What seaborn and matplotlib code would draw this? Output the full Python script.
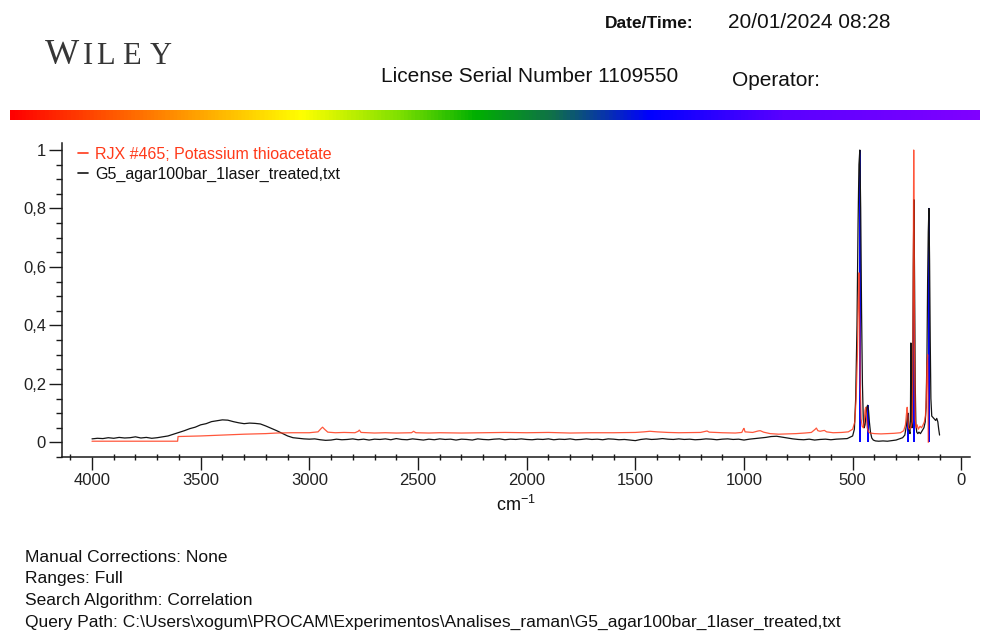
import numpy as np
import pandas as pd
import matplotlib
matplotlib.use("Agg")
import matplotlib.pyplot as plt
import seaborn as sns
from matplotlib.colors import LinearSegmentedColormap
from matplotlib.ticker import MultipleLocator, FuncFormatter

# ---------------- data ----------------
sample_label = "G5_agar100bar_1laser_treated,txt"
ref_label = "RJX #465; Potassium thioacetate"

black_wn = [
    4000, 3975, 3950, 3925, 3900, 3875, 3850, 3825, 3800, 3775,
    3750, 3725, 3700, 3675, 3650,
    3625, 3600, 3575, 3550, 3525, 3500, 3475, 3450, 3425, 3400,
    3375, 3350, 3325, 3300, 3275, 3250, 3225, 3200, 3175, 3150,
    3125, 3100, 3075, 3050, 3025,
    3000, 2975, 2950, 2925, 2900, 2875, 2850, 2825, 2800, 2775,
    2750, 2725, 2700, 2675, 2650, 2625, 2600, 2575, 2550, 2525,
    2500, 2475, 2450, 2425, 2400, 2375, 2350, 2325, 2300, 2275,
    2250, 2225, 2200, 2175, 2150, 2125, 2100, 2075, 2050, 2025,
    2000, 1975, 1950, 1925, 1900, 1875, 1850, 1825, 1800, 1775,
    1750, 1725, 1700, 1675, 1650, 1625, 1600, 1575, 1550, 1525,
    1500, 1475, 1450, 1425, 1400, 1375, 1350, 1325, 1300, 1275,
    1250, 1225, 1200, 1175, 1150, 1125, 1100, 1075, 1050, 1025,
    1000, 975, 950, 925, 900, 875, 850, 825, 800, 775,
    750, 725, 700, 675, 650, 625, 600, 575, 550, 525,
    500, 492, 486, 480, 475, 471, 467, 463, 459, 455,
    451, 447, 443, 439, 435, 431, 427, 423, 418, 412,
    405, 395, 380, 360, 340, 320, 300, 285, 270, 260,
    252, 248, 246, 243, 240, 236, 234, 232, 230, 227,
    224, 221, 218, 215, 212, 209, 205, 200, 195, 188,
    180, 172, 166, 162, 158, 155, 152, 149, 146, 143,
    140, 136, 130, 124, 118, 113, 108, 104, 100,
]
black_int = [
    .012, .014, .013, .016, .014, .017, .015, .016, .019, .015,
    .017, .014, .016, .019, .022,
    .028, .034, .040, .047, .052, .060, .064, .071, .074, .077,
    .076, .071, .067, .064, .066, .065, .063, .056, .048, .040,
    .031, .022, .016, .014, .012,
    .011, .012, .009, .007, .008, .011, .009, .010, .012, .009,
    .011, .008, .011, .010, .012, .009, .013, .010, .009, .012,
    .010, .008, .011, .009, .012, .010, .011, .008, .011, .010,
    .008, .012, .010, .009, .011, .012, .009, .011, .010, .012,
    .010, .009, .011, .010, .012, .009, .011, .010, .012, .009,
    .010, .012, .010, .011, .009, .012, .011, .009, .010, .008,
    .006, .010, .012, .010, .011, .013, .011, .010, .012, .010,
    .011, .009, .010, .012, .011, .009, .011, .012, .010, .011,
    .008, .011, .013, .015, .017, .020, .021, .018, .015, .012,
    .010, .009, .011, .008, .010, .011, .009, .011, .012, .013,
    .022, .045, .15, .40, .75, .95, 1.0, .80, .45, .20,
    .08, .05, .06, .09, .12, .127, .11, .07, .035, .015,
    .008, .005, .004, .005, .004, .006, .008, .012, .016, .025,
    .06, .09, .10, .07, .04, .03, .10, .34, .08, .05,
    .20, .60, .83, .55, .20, .06, .035, .03, .035, .03,
    .04, .05, .07, .12, .30, .55, .72, .80, .62, .35,
    .15, .09, .085, .08, .075, .082, .07, .045, .025,
]

red_wn = [
    4000, 3800, 3606, 3604, 3500, 3400, 3300, 3200, 3150, 3080,
    3000, 2960, 2945, 2939, 2930, 2915, 2880, 2840, 2790, 2775,
    2770, 2762, 2700, 2650, 2600, 2530, 2520, 2510, 2450, 2400,
    2300, 2200, 2100, 2000, 1900, 1800, 1700, 1600, 1500, 1460,
    1433, 1400, 1350, 1300, 1200, 1170, 1160, 1100, 1040, 1010,
    1003, 1000, 995, 960, 935, 925, 910, 880, 840, 800,
    760, 720, 690, 672, 667, 660, 650, 630, 620, 590,
    550, 520, 500, 490, 484, 478, 474, 471, 468, 465,
    461, 456, 451, 447, 443, 440, 437, 433, 427, 420,
    400, 370, 340, 310, 280, 265, 257, 252, 249, 246,
    243, 238, 232, 226, 223, 221, 219, 217, 215, 212,
    208, 203, 198, 190, 183, 176, 170, 165, 161, 158,
    155, 153, 152,
]
red_int = [
    .004, .004, .004, .020, .022, .025, .028, .030, .032, .033,
    .033, .036, .048, .052, .045, .035, .033, .034, .033, .038,
    .042, .034, .032, .033, .032, .033, .038, .033, .032, .033,
    .032, .033, .034, .033, .034, .032, .033, .033, .034, .036,
    .038, .036, .034, .033, .034, .039, .035, .033, .032, .034,
    .045, .048, .036, .034, .039, .040, .035, .030, .028, .029,
    .030, .032, .034, .045, .049, .040, .038, .041, .036, .033,
    .034, .036, .045, .07, .15, .30, .48, .58, .42, .20,
    .08, .055, .05, .07, .11, .12, .09, .05, .036, .032,
    .030, .029, .030, .031, .033, .040, .06, .10, .12, .09,
    .05, .045, .05, .07, .25, .60, 1.0, .70, .30, .08,
    .05, .06, .045, .055, .05, .06, .07, .09, .15, .26,
    .30, .15, .0,
]

peak_wn = [467, 431, 246, 218, 149]
peak_top = [1.0, 0.127, 0.10, 0.83, 0.80]

x_ticks = [4000, 3500, 3000, 2500, 2000, 1500, 1000, 500, 0]
y_ticks = [0, 0.2, 0.4, 0.6, 0.8, 1]

footer_lines = [
    "Manual Corrections: None",
    "Ranges: Full",
    "Search Algorithm: Correlation",
    r"Query Path: C:\Users\xogum\PROCAM\Experimentos\Analises_raman\G5_agar100bar_1laser_treated,txt",
]

# ---------------- style ----------------
sns.set_style("ticks")
plt.rcParams["font.family"] = ["Liberation Sans", "DejaVu Sans"]
plt.rcParams["mathtext.fontset"] = "custom"
plt.rcParams["mathtext.rm"] = "Liberation Sans"
plt.rcParams["mathtext.it"] = "Liberation Sans:italic"

W, H = 981, 632
fig = plt.figure(figsize=(W / 100, H / 100), dpi=100)
fig.patch.set_facecolor("white")

def fx(px):
    return px / W

def fy(py):
    return 1 - py / H

# ---------------- header ----------------
wiley_col = "#363636"
fig.text(fx(45), fy(64), "W", fontsize=26, family="Liberation Serif", color=wiley_col, va="baseline")
for ch, xp in zip("ILEY", [83, 96, 122, 150]):
    fig.text(fx(xp), fy(64), ch, fontsize=22, family="Liberation Serif", color=wiley_col, va="baseline")

fig.text(fx(605), fy(24), "Date/Time:", fontsize=12.5, fontweight="bold", va="center", color="#111")
fig.text(fx(728), fy(23), "20/01/2024 08:28", fontsize=15, va="center", color="#111")
fig.text(fx(381), fy(77), "License Serial Number 1109550", fontsize=15, va="center", color="#111")
fig.text(fx(732), fy(80), "Operator:", fontsize=15, va="center", color="#111")

# rainbow bar
bar_ax = fig.add_axes([fx(10), fy(120), fx(970), 10 / H])
stops = [(0.0, "#ff0000"), (0.15, "#ff7f00"), (0.30, "#ffff00"), (0.40, "#80e000"),
         (0.48, "#00b000"), (0.56, "#10704a"), (0.66, "#0000ff"), (0.80, "#5a00ff"),
         (1.0, "#8000ff")]
cmap = LinearSegmentedColormap.from_list("rainbowbar", stops)
bar_ax.imshow(np.linspace(0, 1, 800)[None, :], aspect="auto", cmap=cmap)
bar_ax.set_axis_off()

# ---------------- main axes ----------------
ax = fig.add_axes([fx(62), fy(457), (970 - 62) / W, (457 - 143) / H])

df_black = pd.DataFrame({"wn": black_wn, "intensity": black_int})
df_red = pd.DataFrame({"wn": red_wn, "intensity": red_int})

ax.vlines(peak_wn, 0, peak_top, color="#0000ff", lw=1.4, zorder=1.5)
sns.lineplot(data=df_black, x="wn", y="intensity", ax=ax, color="#141414", lw=0.9,
             sort=False, estimator=None, label=sample_label, zorder=2)
sns.lineplot(data=df_red, x="wn", y="intensity", ax=ax, color="#ff3a1a", lw=0.9, alpha=0.85,
             sort=False, estimator=None, label=ref_label, zorder=4)

ax.set_xlim(4138, -40)
ax.set_ylim(-0.05, 1.024)
ax.set_xticks(x_ticks)
ax.set_yticks(y_ticks)
ax.xaxis.set_minor_locator(MultipleLocator(100))
ax.yaxis.set_minor_locator(MultipleLocator(0.05))
ax.xaxis.set_major_formatter(FuncFormatter(lambda v, p: f"{int(round(v))}"))
ax.yaxis.set_major_formatter(FuncFormatter(lambda v, p: f"{v:g}".replace(".", ",")))

for s in ["top", "right"]:
    ax.spines[s].set_visible(False)
for s in ["left", "bottom"]:
    ax.spines[s].set_linewidth(1.1)
    ax.spines[s].set_color("#1a1a1a")

ax.tick_params(which="both", bottom=True, left=True, top=False, right=False)
ax.tick_params(which="major", direction="out", length=9.5, width=1.0, color="#1a1a1a",
               labelsize=12, labelcolor="#222", pad=2)
ax.tick_params(axis="x", which="minor", direction="inout", length=5, width=1.0, color="#1a1a1a")
ax.tick_params(axis="y", which="minor", direction="out", length=4, width=1.0, color="#1a1a1a")
ax.set_xlabel("cm$^{-1}$", fontsize=13, labelpad=5, color="#111")
ax.set_ylabel("")
ax.grid(False)

handles, labels = ax.get_legend_handles_labels()
order = [labels.index(ref_label), labels.index(sample_label)]
leg = ax.legend([handles[i] for i in order], [labels[i] for i in order],
                loc="upper left", bbox_to_anchor=(fx(78), fy(147)), bbox_transform=fig.transFigure,
                frameon=False, fontsize=11.5, handlelength=0.6, handletextpad=0.45,
                labelspacing=0.3, borderpad=0, borderaxespad=0)
leg.get_texts()[0].set_color("#ff3a1a")
leg.get_texts()[1].set_color("#111")
for lh in leg.get_lines():
    lh.set_alpha(1)
    lh.set_linewidth(1.2)

# ---------------- footer ----------------
for line, yp in zip(footer_lines, [557, 578, 600, 622]):
    fig.text(fx(25), fy(yp), line, fontsize=12.5, va="center", color="#111")

fig.savefig("out.png", dpi=100, facecolor="white")
